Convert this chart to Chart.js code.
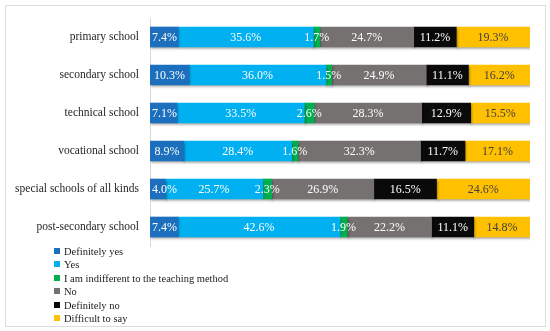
<!DOCTYPE html>
<html>
<head>
<meta charset="utf-8">
<script src="https://cdn.jsdelivr.net/npm/chart.js@4.4.0/dist/chart.umd.min.js"></script>
<style>
  body { margin: 0; background: #fff; }
  #wrap { position: relative; width: 550px; height: 331px; }
  #frame { position: absolute; left: 5px; top: 5px; width: 539px; height: 320px; border: 1px solid #dcdcdc; }
  #chart { position: absolute; left: 0; top: 0; }
  #legend { position: absolute; left: 54px; top: 245px; font: 10.5px "Liberation Serif", serif; color: #1a1a1a; }
  #legend div { height: 13.4px; line-height: 13.4px; white-space: nowrap; }
  #legend span { display: inline-block; width: 6px; height: 6px; margin-right: 4px; vertical-align: 1px; }
</style>
</head>
<body>
<div id="wrap">
  <div id="frame"></div>
  <canvas id="chart" width="550" height="331"></canvas>
  <div id="legend"></div>
</div>
<script>
// schools on the y axis
var schools = ['primary school', 'secondary school', 'technical school', 'vocational school', 'special schools of all kinds', 'post-secondary school'];
var answers = ['Definitely yes', 'Yes', 'I am indifferent to the teaching method', 'No', 'Definitely no', 'Difficult to say'];
var colours = ['#1b6fbd', '#00b0f0', '#00b050', '#767171', '#0a0a0a', '#ffc000'];

// percent per answer, one value per school
var definitelyYes = [7.4, 10.3, 7.1, 8.9, 4.0, 7.4];
var yes = [35.6, 36.0, 33.5, 28.4, 25.7, 42.6];
var indifferent = [1.7, 1.5, 2.6, 1.6, 2.3, 1.9];
var no = [24.7, 24.9, 28.3, 32.3, 26.9, 22.2];
var definitelyNo = [11.2, 11.1, 12.9, 11.7, 16.5, 11.1];
var difficult = [19.3, 16.2, 15.5, 17.1, 24.6, 14.8];

var series = [definitelyYes, yes, indifferent, no, definitelyNo, difficult];
var labelFont = '12px "Liberation Serif", serif';

var datasets = series.map(function(vals, i) {
    return { label: answers[i], data: vals, backgroundColor: colours[i], borderWidth: 0 };
});

// light shadow under the bars + value labels
var barExtras = {
    id: 'barExtras',
    beforeDatasetsDraw: function(chart) {
        var ctx = chart.ctx;
        ctx.save();
        ctx.shadowColor = 'rgba(0,0,0,0.3)';
        ctx.shadowOffsetX = 1;
        ctx.shadowOffsetY = 2;
        ctx.shadowBlur = 2;
    },
    afterDatasetsDraw: function(chart) {
        var ctx = chart.ctx;
        var left = chart.chartArea.left + 2;
        ctx.restore();
        ctx.save();
        ctx.font = labelFont;
        ctx.textAlign = 'left';
        ctx.textBaseline = 'middle';
        chart.data.datasets.forEach(function(ds, i) {
            var meta = chart.getDatasetMeta(i);
            ctx.fillStyle = i === 5 ? '#404040' : '#ffffff';
            meta.data.forEach(function(bar, j) {
                var p = bar.getCenterPoint();
                var txt = ds.data[j].toFixed(1) + '%';
                var w = ctx.measureText(txt).width;
                var x = Math.max(p.x - w / 2, left);
                ctx.fillText(txt, x, p.y + 0.5);
            });
        });
        ctx.restore();
    }
};

var chart = new Chart(document.getElementById('chart'), {
    type: 'bar',
    data: { labels: schools, datasets: datasets },
    options: {
        indexAxis: 'y',
        responsive: false,
        animation: false,
        layout: { padding: { left: 0, right: 20, top: 18, bottom: 85 } },
        barThickness: 20,
        plugins: { legend: { display: false }, tooltip: { enabled: false } },
        scales: {
            x: { stacked: true, min: 0, max: 100, display: false },
            y: {
                stacked: true,
                grid: { display: false, drawTicks: false },
                border: { display: true, color: '#d9d9d9', width: 1 },
                ticks: { color: '#262626', padding: 11, font: { family: '"Liberation Serif", serif', size: 11.5 } },
                afterFit: function(scale) { scale.width = 150; }
            }
        }
    },
    plugins: [barExtras]
});

// legend below the chart
var legend = document.getElementById('legend');
answers.forEach(function(a, i) {
    var row = document.createElement('div');
    row.innerHTML = '<span style="background:' + colours[i] + '"></span>' + a;
    legend.appendChild(row);
});
</script>
</body>
</html>
